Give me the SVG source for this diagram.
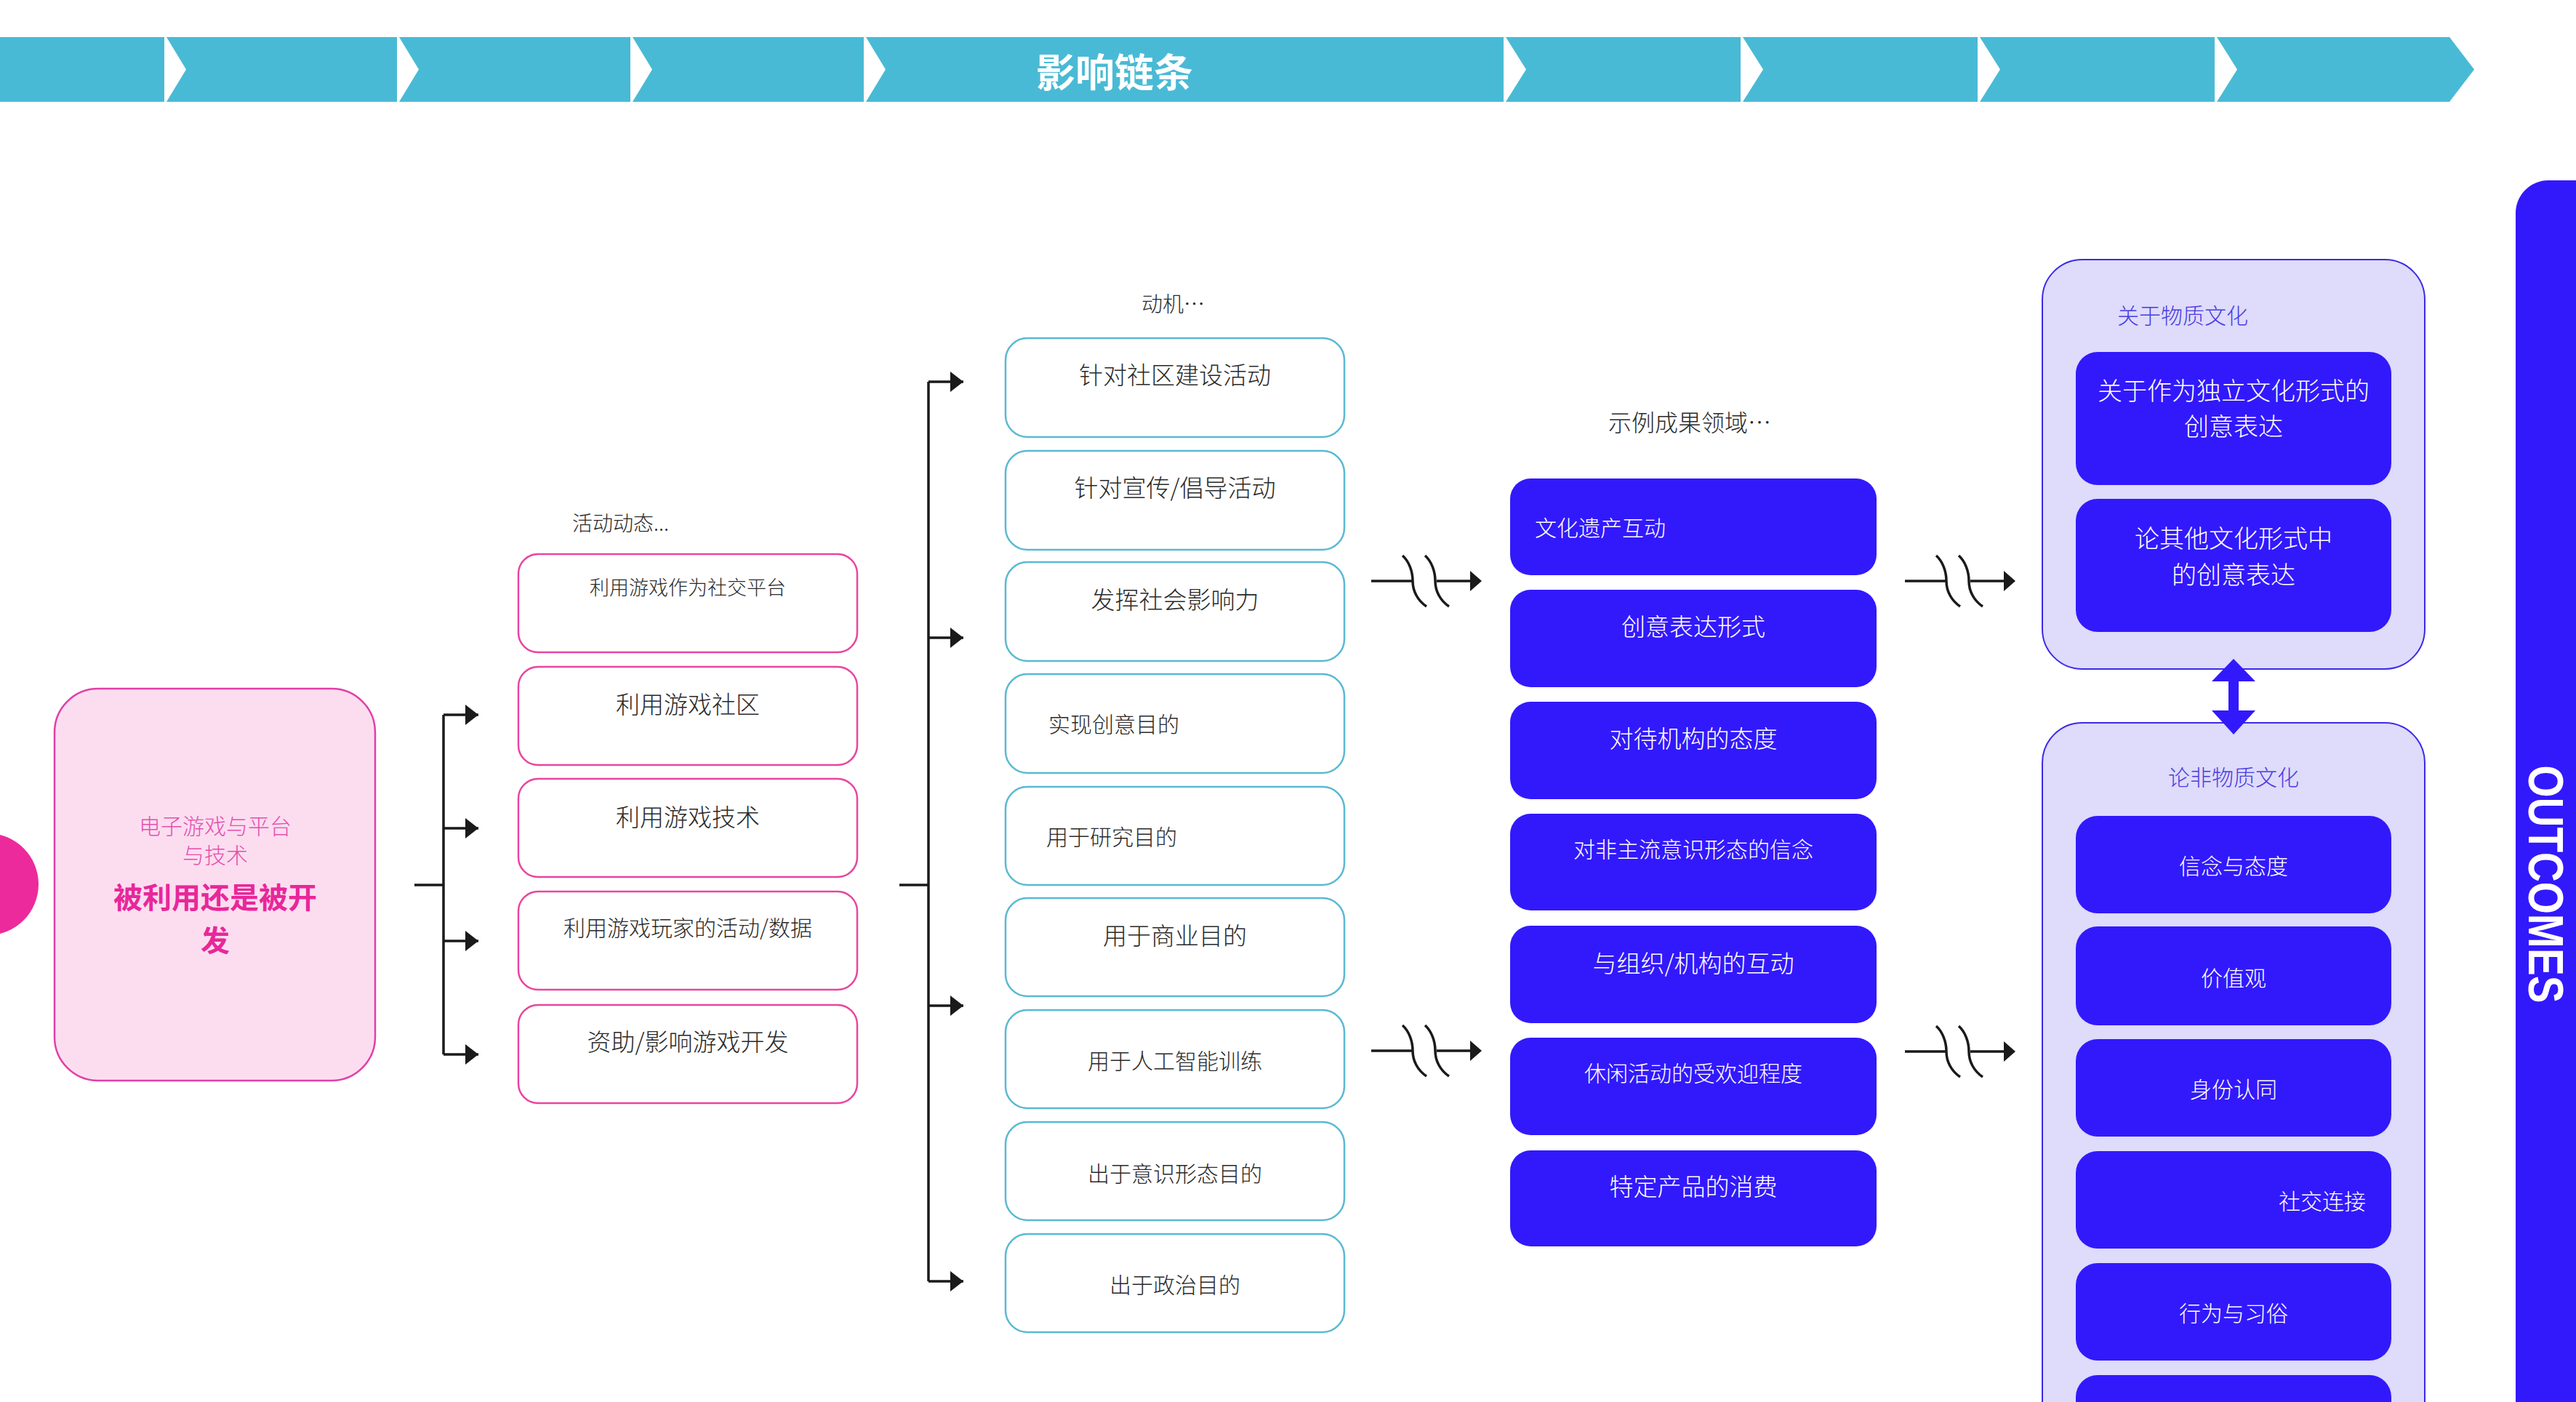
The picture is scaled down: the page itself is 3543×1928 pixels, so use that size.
<svg xmlns="http://www.w3.org/2000/svg" width="3543" height="1928" viewBox="0 0 3543 1928">
<style>
.t{font-family:"Noto Sans CJK SC","Liberation Sans",sans-serif;font-weight:300;fill:#2a2a2a;}
.w{font-family:"Noto Sans CJK SC","Liberation Sans",sans-serif;font-weight:300;fill:#fff;}
.m{text-anchor:middle;}
.act{fill:#fff;stroke:#E9459F;stroke-width:2.5;}
.mot{fill:#fff;stroke:#5BB9D2;stroke-width:2.5;}
.blue{fill:#3219FC;}
.cont{fill:#DEDBFB;stroke:#3B2AE6;stroke-width:2;}
.ln{fill:none;stroke:#1a1a1a;stroke-width:3.5;}
.sep{fill:#fff;}
</style>
<defs>
<marker id="ah" markerUnits="userSpaceOnUse" markerWidth="20" markerHeight="30" refX="18" refY="14" orient="auto">
<path d="M0,0 L18,14 L0,28 Z" fill="#1a1a1a"/>
</marker>
<g id="brk">
<path class="ln" d="M0,0 H57 M90,0 H136"/>
<path d="M136,-14 L152,0 L136,14 Z" fill="#1a1a1a"/>
<path class="ln" d="M43,-35 C52,-27 57,-13 57,0 C57,14 64,27 76,35" stroke-width="3"/>
<path class="ln" d="M74,-35 C83,-27 88,-13 88,0 C88,14 95,27 107,35" stroke-width="3"/>
</g>
</defs>

<g id="banner">
<path d="M0,51 H3369 L3403,95.5 L3369,140 H0 Z" fill="#49BAD5"/>
<polygon class="sep" points="226,51 229,51 256,95.5 229,140 226,140"/>
<polygon class="sep" points="546,51 549,51 576,95.5 549,140 546,140"/>
<polygon class="sep" points="867,51 870,51 897,95.5 870,140 867,140"/>
<polygon class="sep" points="1188,51 1191,51 1218,95.5 1191,140 1188,140"/>
<polygon class="sep" points="2068,51 2071,51 2099,95.5 2071,140 2068,140"/>
<polygon class="sep" points="2394,51 2397,51 2425,95.5 2397,140 2394,140"/>
<polygon class="sep" points="2720,51 2723,51 2751,95.5 2723,140 2720,140"/>
<polygon class="sep" points="3046,51 3049,51 3077,95.5 3049,140 3046,140"/>
<text x="1533" y="120" font-family="'Noto Sans CJK SC',sans-serif" fill="#fff" text-anchor="middle" font-size="54" font-weight="bold">影响链条</text>
</g>

<g id="outcomes-bar">
<rect x="3460" y="248" width="150" height="1740" rx="45" class="blue"/>
<text transform="translate(3502,1216) rotate(90)" x="0" y="24" font-family="'Liberation Sans',Arial,sans-serif" font-weight="bold" font-size="68" fill="#fff" text-anchor="middle" textLength="327" lengthAdjust="spacingAndGlyphs">OUTCOMES</text>
</g>

<g id="left-circle">
<circle cx="-17" cy="1216" r="70" fill="#EC2A9C"/>
</g>

<g id="source">
<rect x="75" y="947" width="441" height="539" rx="60" fill="#FCDDF0" stroke="#E23FA6" stroke-width="2.5"/>
<text x="296" y="1147" class="t m" font-size="30" style="fill:#E54FAE">电子游戏与平台</text>
<text x="296" y="1187" class="t m" font-size="30" style="fill:#E54FAE">与技术</text>
<text x="296" y="1249" class="m" font-family="'Noto Sans CJK SC',sans-serif" font-size="40" font-weight="bold" fill="#E8279A">被利用还是被开</text>
<text x="296" y="1308" class="m" font-family="'Noto Sans CJK SC',sans-serif" font-size="40" font-weight="bold" fill="#E8279A">发</text>
</g>

<g id="labels">
<text x="787" y="730" class="t" font-size="28">活动动态...</text>
<text x="1570" y="429" class="t" font-size="29">动机…</text>
<text x="2212" y="593" class="t" font-size="32">示例成果领域…</text>
</g>

<g id="activities">
<g id="act1"><rect x="713" y="762" width="466" height="135" rx="27" class="act"/><text x="946" y="818" class="t m" font-size="27">利用游戏作为社交平台</text></g>
<g id="act2"><rect x="713" y="917" width="466" height="135" rx="27" class="act"/><text x="946" y="981" class="t m" font-size="33">利用游戏社区</text></g>
<g id="act3"><rect x="713" y="1071" width="466" height="135" rx="27" class="act"/><text x="946" y="1136" class="t m" font-size="33">利用游戏技术</text></g>
<g id="act4"><rect x="713" y="1226" width="466" height="135" rx="27" class="act"/><text x="946" y="1287" class="t m" font-size="30">利用游戏玩家的活动/数据</text></g>
<g id="act5"><rect x="713" y="1382" width="466" height="135" rx="27" class="act"/><text x="946" y="1445" class="t m" font-size="33">资助/影响游戏开发</text></g>
</g>

<g id="motivations">
<g id="mot1"><rect x="1383" y="465" width="466" height="136" rx="30" class="mot"/><text x="1616" y="528" class="t m" font-size="33">针对社区建设活动</text></g>
<g id="mot2"><rect x="1383" y="620" width="466" height="136" rx="30" class="mot"/><text x="1616" y="683" class="t m" font-size="33">针对宣传/倡导活动</text></g>
<g id="mot3"><rect x="1383" y="773" width="466" height="136" rx="30" class="mot"/><text x="1616" y="837" class="t m" font-size="33">发挥社会影响力</text></g>
<g id="mot4"><rect x="1383" y="927" width="466" height="136" rx="30" class="mot"/><text x="1442" y="1007" class="t" font-size="30">实现创意目的</text></g>
<g id="mot5"><rect x="1383" y="1082" width="466" height="135" rx="30" class="mot"/><text x="1439" y="1162" class="t" font-size="30">用于研究目的</text></g>
<g id="mot6"><rect x="1383" y="1235" width="466" height="135" rx="30" class="mot"/><text x="1616" y="1299" class="t m" font-size="33">用于商业目的</text></g>
<g id="mot7"><rect x="1383" y="1389" width="466" height="135" rx="30" class="mot"/><text x="1616" y="1470" class="t m" font-size="30">用于人工智能训练</text></g>
<g id="mot8"><rect x="1383" y="1543" width="466" height="135" rx="30" class="mot"/><text x="1616" y="1625" class="t m" font-size="30">出于意识形态目的</text></g>
<g id="mot9"><rect x="1383" y="1697" width="466" height="135" rx="30" class="mot"/><text x="1616" y="1778" class="t m" font-size="30">出于政治目的</text></g>
</g>

<g id="domains">
<g id="dom1"><rect x="2077" y="658" width="504" height="133" rx="28" class="blue"/><text x="2111" y="737" class="w" font-size="30">文化遗产互动</text></g>
<g id="dom2"><rect x="2077" y="811" width="504" height="134" rx="28" class="blue"/><text x="2329" y="874" class="w m" font-size="33">创意表达形式</text></g>
<g id="dom3"><rect x="2077" y="965" width="504" height="134" rx="28" class="blue"/><text x="2329" y="1028" class="w m" font-size="33">对待机构的态度</text></g>
<g id="dom4"><rect x="2077" y="1119" width="504" height="133" rx="28" class="blue"/><text x="2329" y="1179" class="w m" font-size="30">对非主流意识形态的信念</text></g>
<g id="dom5"><rect x="2077" y="1273" width="504" height="134" rx="28" class="blue"/><text x="2329" y="1337" class="w m" font-size="33">与组织/机构的互动</text></g>
<g id="dom6"><rect x="2077" y="1427" width="504" height="134" rx="28" class="blue"/><text x="2329" y="1487" class="w m" font-size="30">休闲活动的受欢迎程度</text></g>
<g id="dom7"><rect x="2077" y="1582" width="504" height="132" rx="28" class="blue"/><text x="2329" y="1644" class="w m" font-size="33">特定产品的消费</text></g>
</g>

<g id="tangible">
<rect x="2809" y="357" width="526" height="563" rx="55" class="cont"/>
<text x="2912" y="445" class="t" font-size="30" style="fill:#4A3BE0">关于物质文化</text>
<g id="tan1"><rect x="2855" y="484" width="434" height="183" rx="30" class="blue"/>
<text x="3072" y="550" class="w m" font-size="34">关于作为独立文化形式的</text>
<text x="3072" y="599" class="w m" font-size="34">创意表达</text></g>
<g id="tan2"><rect x="2855" y="686" width="434" height="183" rx="30" class="blue"/>
<text x="3072" y="753" class="w m" font-size="34">论其他文化形式中</text>
<text x="3072" y="803" class="w m" font-size="34">的创意表达</text></g>
</g>

<g id="intangible">
<rect x="2809" y="994" width="526" height="1000" rx="55" class="cont"/>
<text x="3072" y="1080" class="t m" font-size="30" style="fill:#4A3BE0">论非物质文化</text>
<g id="int1"><rect x="2855" y="1122" width="434" height="134" rx="30" class="blue"/><text x="3072" y="1202" class="w m" font-size="30">信念与态度</text></g>
<g id="int2"><rect x="2855" y="1274" width="434" height="136" rx="30" class="blue"/><text x="3072" y="1356" class="w m" font-size="30">价值观</text></g>
<g id="int3"><rect x="2855" y="1429" width="434" height="134" rx="30" class="blue"/><text x="3072" y="1509" class="w m" font-size="30">身份认同</text></g>
<g id="int4"><rect x="2855" y="1583" width="434" height="134" rx="30" class="blue"/><text x="3254" y="1663" class="w" font-size="30" text-anchor="end">社交连接</text></g>
<g id="int5"><rect x="2855" y="1737" width="434" height="134" rx="30" class="blue"/><text x="3072" y="1817" class="w m" font-size="30">行为与习俗</text></g>
<g id="int6"><rect x="2855" y="1891" width="434" height="134" rx="30" class="blue"/></g>
</g>

<g id="connectors">
<path class="ln" d="M570,1217 H610 M610,983 V1450"/>
<path class="ln" d="M610,983 H658" marker-end="url(#ah)"/>
<path class="ln" d="M610,1139 H658" marker-end="url(#ah)"/>
<path class="ln" d="M610,1294 H658" marker-end="url(#ah)"/>
<path class="ln" d="M610,1450 H658" marker-end="url(#ah)"/>
<path class="ln" d="M1237,1217 H1277 M1277,525 V1762"/>
<path class="ln" d="M1277,525 H1325" marker-end="url(#ah)"/>
<path class="ln" d="M1277,877 H1325" marker-end="url(#ah)"/>
<path class="ln" d="M1277,1383 H1325" marker-end="url(#ah)"/>
<path class="ln" d="M1277,1762 H1325" marker-end="url(#ah)"/>
<use href="#brk" transform="translate(1886,799)"/>
<use href="#brk" transform="translate(1886,1445)"/>
<use href="#brk" transform="translate(2620,799)"/>
<use href="#brk" transform="translate(2620,1446)"/>
<path d="M3072,906 L3102,937 H3079 V977 H3102 L3072,1010 L3042,977 H3065 V937 H3042 Z" fill="#3219FC"/>
</g>
</svg>
